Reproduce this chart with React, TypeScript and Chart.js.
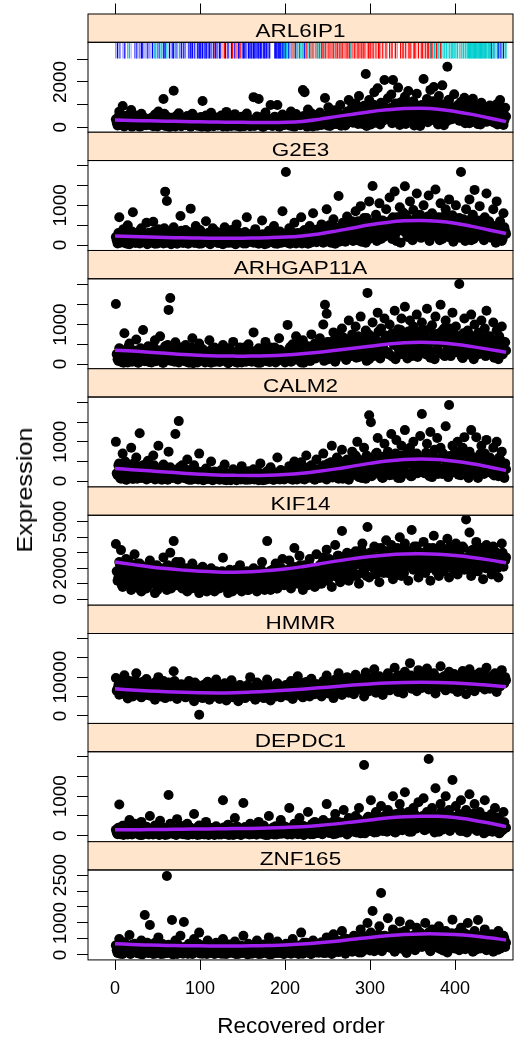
import React, { useEffect, useRef } from 'react';
import { Chart, registerables } from 'chart.js';

Chart.register(...registerables);

// ---------------- data ----------------
const GENES = ['ARL6IP1', 'G2E3', 'ARHGAP11A', 'CALM2', 'KIF14', 'HMMR', 'DEPDC1', 'ZNF165'];

// expression values at odd positions of the recovered order (1, 3, 5, ...)
const ARL6IP1 = [
  350, 80, 690, 180, 940, 40, 260, 520, 120, 760, 60, 300, 450, 200, 30, 600, 150, 380, 90, 250,
  170, 420, 50, 560, 280, 700, 100, 330, 1250, 60, 480, 200, 90, 400, 1610, 40, 300, 620, 120, 230,
  380, 90, 500, 250, 30, 600, 180, 340, 70, 200, 450, 1160, 140, 520, 20, 310, 640, 100, 270, 430,
  80, 300, 520, 40, 200, 680, 120, 400, 60, 250, 580, 150, 360, 30, 460, 220, 90, 610, 300, 50,
  330, 1330, 200, 480, 1250, 80, 340, 40, 650, 150, 260, 980, 60, 400, 180, 980, 30, 290, 560, 100,
  250, 480, 80, 700, 340, 30, 590, 180, 400, 120, 1645, 1550, 300, 780, 150, 620, 40, 360, 530, 220,
  650, 100, 430, 1290, 250, 880, 60, 520, 370, 750, 150, 630, 980, 280, 480, 80, 700, 1200, 400, 900,
  580, 1050, 240, 1380, 760, 150, 950, 2350, 480, 1200, 120, 880, 1550, 380, 1720, 660, 1080, 280, 2090, 820,
  1280, 480, 1450, 2090, 230, 880, 1750, 100, 1120, 390, 1350, 930, 1600, 300, 780, 1150, 520, 1480, 680, 60,
  980, 2130, 580, 1250, 870, 1650, 380, 1775, 1080, 240, 1380, 720, 1850, 90, 980, 2673, 1220, 340, 820, 1460,
  580, 880, 290, 1120, 680, 1300, 430, 970, 180, 780, 1260, 530, 920, 140, 680, 1080, 380, 820, 240, 580,
  960, 480, 780, 190, 1020, 330, 1200, 620, 100, 860,
];
const G2E3 = [
  200, 40, 700, 120, 350, 60, 250, 500, 20, 180, 826, 90, 300, 150, 40, 420, 220, 80, 560, 130,
  60, 280, 588, 30, 200, 400, 100, 250, 40, 1346, 1111, 180, 320, 70, 450, 150, 30, 260, 732, 90,
  220, 380, 50, 150, 917, 280, 60, 480, 120, 30, 340, 200, 80, 600, 150, 40, 260, 420, 100, 200,
  50, 300, 160, 20, 450, 120, 250, 60, 380, 180, 30, 520, 90, 220, 140, 40, 330, 700, 80, 200,
  260, 60, 400, 140, 30, 250, 620, 100, 180, 40, 360, 200, 80, 480, 150, 30, 300, 110, 850, 220,
  1843, 60, 420, 250, 120, 560, 40, 300, 180, 700, 90, 380, 220, 30, 480, 150, 800, 260, 70, 400,
  180, 520, 60, 350, 900, 120, 440, 250, 650, 30, 380, 1237, 160, 500, 280, 80, 720, 420, 200, 600,
  300, 850, 120, 520, 980, 250, 680, 60, 430, 1100, 350, 1490, 200, 760, 500, 1050, 150, 620, 380, 900,
  480, 1200, 250, 700, 1350, 100, 560, 950, 380, 820, 1480, 300, 650, 1100, 200, 880, 520, 1300, 400, 760,
  220, 1000, 620, 450, 1250, 180, 800, 560, 1400, 320, 700, 1050, 150, 600, 900, 420, 1150, 280, 750, 500,
  1000, 350, 680, 1843, 200, 550, 900, 430, 1150, 120, 760, 1390, 300, 620, 980, 450, 200, 700, 1300, 380,
  550, 180, 900, 420, 1100, 250, 600, 100, 800, 350,
];
const ARHGAP11A = [
  1520, 120, 400, 60, 250, 780, 180, 40, 520, 300, 90, 200, 620, 30, 350, 150, 860, 70, 280, 450,
  160, 40, 380, 600, 90, 250, 700, 120, 30, 450, 200, 1370, 1670, 80, 320, 550, 150, 40, 420, 260,
  90, 480, 200, 30, 350, 650, 120, 260, 40, 520, 180, 380, 70, 300, 160, 600, 30, 220, 420, 100,
  300, 50, 180, 480, 90, 250, 20, 380, 150, 560, 60, 280, 120, 420, 40, 200, 340, 80, 500, 150,
  60, 800, 250, 120, 400, 30, 300, 180, 560, 70, 220, 420, 100, 350, 40, 260, 650, 140, 300, 80,
  200, 990, 380, 60, 500, 250, 700, 120, 350, 40, 600, 280, 160, 450, 80, 750, 300, 520, 180, 400,
  650, 250, 1000, 1500, 1270, 120, 550, 380, 800, 60, 450, 700, 220, 900, 350, 150, 620, 1100, 400, 750,
  280, 950, 500, 180, 1200, 650, 400, 850, 1800, 120, 700, 1050, 350, 580, 1300, 250, 900, 460, 1150, 600,
  300, 1000, 720, 180, 1350, 500, 880, 260, 1150, 640, 1450, 380, 820, 1100, 200, 950, 560, 1250, 420, 700,
  1050, 280, 850, 1400, 520, 160, 980, 700, 1200, 380, 600, 1500, 250, 900, 1100, 450, 780, 200, 1300, 620,
  950, 400, 2025, 700, 150, 1150, 560, 850, 300, 1250, 640, 1000, 220, 780, 480, 1100, 350, 900, 1350, 500,
  700, 250, 1050, 450, 850, 120, 600, 950, 300, 550,
];
const CALM2 = [
  1000, 150, 450, 60, 700, 250, 30, 380, 120, 850, 50, 300, 600, 180, 1220, 80, 400, 220, 40, 520,
  300, 100, 650, 40, 250, 900, 150, 30, 420, 200, 60, 750, 350, 100, 280, 1200, 50, 1530, 180, 400,
  80, 300, 550, 30, 200, 120, 400, 60, 250, 700, 100, 30, 180, 320, 50, 150, 500, 20, 240, 90,
  150, 30, 280, 80, 420, 20, 180, 100, 50, 300, 140, 20, 220, 60, 380, 100, 30, 160, 250, 40,
  120, 300, 50, 200, 20, 450, 90, 160, 30, 250, 70, 350, 140, 30, 200, 600, 60, 280, 110, 40,
  220, 80, 380, 150, 30, 500, 200, 60, 300, 480, 120, 40, 650, 250, 90, 400, 160, 30, 550, 200,
  80, 350, 700, 150, 40, 450, 250, 900, 100, 320, 600, 60, 200, 800, 400, 130, 550, 30, 300, 750,
  200, 650, 1000, 100, 450, 300, 850, 60, 550, 1680, 1500, 400, 180, 700, 1100, 280, 600, 80, 950, 350,
  750, 150, 1200, 500, 300, 1045, 80, 650, 900, 400, 1300, 200, 550, 850, 120, 1000, 450, 700, 300, 1150,
  1710, 250, 600, 950, 400, 1250, 100, 750, 500, 1100, 300, 850, 180, 650, 1400, 450, 1940, 200, 900, 550,
  300, 1000, 700, 150, 850, 1120, 450, 250, 750, 1300, 350, 600, 1120, 80, 500, 900, 250, 700, 1050, 400,
  600, 200, 850, 350, 1000, 120, 550, 750, 250, 450,
];
const KIF14 = [
  3560, 1200, 2400, 3170, 800, 1800, 2600, 1100, 2000, 600, 1500, 2900, 900, 1700, 2300, 500, 1300, 2100, 700, 1600,
  2500, 1000, 1800, 400, 2200, 1400, 800, 1900, 2700, 1200, 600, 1600, 3000, 1000, 3750, 2000, 900, 1500, 2400, 700,
  1400, 2000, 500, 1700, 1100, 2300, 800, 1500, 1900, 400, 1200, 2100, 900, 1600, 700, 1300, 2000, 1000, 500, 1800,
  1200, 700, 1600, 2680, 900, 1400, 400, 1900, 1100, 600, 1700, 1300, 800, 2200, 500, 1500, 1000, 1800, 600, 1300,
  900, 2000, 1400, 500, 1700, 1100, 2400, 800, 1500, 3750, 1200, 600, 1900, 1000, 2300, 700, 1600, 1300, 2600, 900,
  1800, 1200, 2500, 700, 1600, 3300, 2000, 1000, 2800, 1400, 600, 2200, 1700, 900, 2600, 1300, 2000, 800, 2900, 1500,
  2200, 1000, 2700, 1700, 3200, 1300, 2400, 800, 2000, 3500, 1500, 2800, 1100, 4400, 2300, 1800, 3000, 1200, 2600, 2000,
  1500, 3100, 2400, 1000, 2800, 3600, 1800, 2500, 4660, 1400, 3000, 2200, 3400, 1600, 2700, 1100, 3300, 2000, 2600, 3800,
  1700, 2900, 3500, 1300, 2400, 3200, 2000, 4000, 1500, 2800, 3600, 2200, 1200, 3100, 4460, 1900, 2600, 3400, 1400, 3000,
  2300, 3700, 1700, 2800, 3300, 1200, 2500, 4100, 2000, 3000, 1500, 3500, 2700, 1800, 3200, 3900, 1400, 2600, 3100, 2100,
  3600, 1600, 2900, 2300, 3400, 1900, 5140, 2700, 4300, 1500, 3200, 2400, 3700, 1800, 2800, 3300, 1300, 2600, 3500, 2000,
  2900, 1600, 3400, 2300, 3000, 1400, 2700, 3600, 2100, 2500,
];
const HMMR = [
  9800, 7000, 5500, 8500, 6000, 10500, 7500, 4500, 9000, 6500, 5000, 8000, 11000, 6000, 7200, 4800, 8800, 5800, 9500, 6800,
  5200, 8200, 6500, 4200, 7800, 10000, 5600, 7000, 9000, 4600, 6200, 8600, 5000, 7400, 11500, 6000, 4400, 8000, 6800, 5400,
  7600, 4800, 6400, 9000, 5200, 7000, 3800, 8200, 5800, 300, 6600, 4600, 7800, 5400, 8800, 4200, 6200, 7200, 5000, 9400,
  6000, 4400, 7400, 5600, 8400, 4000, 6800, 5200, 9200, 4800, 7000, 6000, 3800, 8000, 5400, 6600, 4600, 7600, 5800, 10000,
  5000, 7200, 4200, 8600, 6200, 5400, 7800, 4600, 6800, 9400, 5600, 4000, 7400, 6400, 5000, 8400, 6000, 4800, 7000, 5800,
  8000, 5200, 6600, 9000, 4400, 7600, 6200, 10200, 5400, 7000, 4800, 8600, 6000, 7400, 5000, 9600, 6800, 5600, 8200, 6400,
  7200, 5000, 9000, 6600, 10400, 5800, 8000, 7000, 4600, 9400, 6400, 11000, 7800, 5400, 8800, 6800, 10000, 6000, 9200, 7400,
  5600, 10600, 8200, 6800, 9600, 7200, 5000, 11200, 8000, 6400, 9800, 7600, 12000, 6000, 8600, 10200, 7000, 5400, 9200, 8000,
  11000, 6600, 8800, 7400, 12400, 9600, 6200, 10400, 8200, 5800, 11400, 7800, 9400, 13600, 7000, 10000, 8600, 6400, 11800, 9000,
  7200, 10600, 8400, 12200, 6800, 9800, 7800, 11000, 5800, 9200, 8000, 12800, 7400, 10200, 6600, 9000, 11400, 8200, 7000, 10800,
  8600, 6200, 10000, 7600, 11600, 8200, 5600, 9400, 12000, 7000, 9000, 6400, 10600, 8000, 11200, 7400, 9800, 6800, 12400, 8400,
  7000, 10200, 8400, 11000, 6200, 9200, 7600, 11800, 8800, 10000,
];
const DEPDC1 = [
  150, 40, 790, 100, 250, 60, 180, 30, 400, 120, 50, 300, 80, 200, 20, 350, 100, 60, 230, 40,
  500, 90, 30, 260, 150, 40, 380, 70, 200, 20, 120, 1030, 300, 60, 180, 30, 420, 100, 250, 50,
  140, 30, 300, 80, 200, 40, 550, 110, 20, 260, 70, 160, 30, 350, 90, 200, 50, 130, 20, 240,
  70, 180, 30, 900, 120, 40, 280, 80, 200, 20, 450, 100, 60, 160, 30, 830, 220, 50, 130, 300,
  40, 200, 90, 30, 350, 150, 60, 260, 20, 120, 500, 80, 180, 30, 240, 100, 50, 400, 140, 60,
  220, 30, 700, 120, 60, 300, 180, 40, 450, 100, 250, 30, 160, 600, 80, 200, 40, 350, 120, 70,
  280, 50, 400, 150, 800, 90, 300, 200, 40, 550, 160, 350, 80, 250, 650, 120, 30, 450, 200, 300,
  100, 500, 250, 700, 60, 350, 1790, 200, 450, 150, 900, 300, 80, 600, 400, 200, 750, 120, 500, 280,
  650, 180, 400, 1000, 90, 550, 300, 800, 150, 450, 1100, 250, 600, 350, 100, 700, 500, 200, 850, 400,
  300, 950, 150, 600, 1940, 400, 700, 250, 1200, 500, 100, 800, 350, 550, 1000, 200, 650, 450, 1410, 300,
  750, 250, 550, 900, 120, 400, 650, 300, 1050, 200, 500, 800, 150, 350, 600, 250, 450, 900, 100, 400,
  300, 550, 150, 700, 250, 450, 80, 350, 600, 200,
];
const ZNF165 = [
  300, 60, 500, 150, 30, 400, 100, 250, 625, 50, 180, 350, 80, 220, 40, 450, 120, 1250, 300, 60,
  940, 200, 30, 380, 120, 550, 70, 250, 40, 180, 2470, 320, 90, 1094, 150, 450, 30, 260, 600, 100,
  1030, 200, 50, 350, 140, 30, 500, 220, 80, 700, 160, 40, 300, 100, 450, 60, 240, 130, 30, 380,
  90, 250, 40, 500, 160, 30, 320, 100, 200, 60, 420, 140, 30, 280, 80, 600, 180, 50, 350, 120,
  40, 260, 110, 450, 30, 200, 80, 330, 140, 50, 550, 200, 30, 300, 100, 420, 60, 240, 150, 30,
  350, 100, 250, 40, 500, 170, 60, 300, 120, 700, 40, 220, 380, 90, 160, 30, 450, 200, 80, 320,
  150, 400, 60, 280, 550, 120, 350, 30, 650, 200, 450, 90, 300, 750, 160, 40, 500, 250, 380, 100,
  600, 200, 450, 80, 800, 350, 150, 550, 1000, 260, 700, 1375, 120, 450, 300, 900, 1940, 200, 600, 380,
  1150, 250, 500, 800, 100, 650, 350, 1050, 200, 550, 750, 60, 450, 950, 300, 600, 150, 850, 400, 700,
  250, 550, 1000, 350, 700, 120, 800, 450, 250, 650, 900, 180, 500, 350, 750, 80, 600, 400, 1100, 300,
  500, 700, 150, 850, 400, 250, 650, 1000, 300, 550, 100, 750, 450, 1094, 200, 600, 350, 800, 150, 500,
  400, 650, 100, 550, 300, 750, 200, 450, 600, 250,
];

// expression values at even positions of the recovered order (2, 4, 6, ...)
const ARL6IP1_EVEN = [
  200, 450, 100, 320, 60, 500, 240, 150, 400, 30, 280, 520, 110, 350, 190, 70, 430, 260, 140, 380,
  90, 310, 210, 480, 40, 360, 170, 250, 600, 120, 330, 20, 420, 230, 80, 500, 150, 290, 50, 370,
  240, 130, 410, 60, 290, 180, 450, 100, 350, 220, 30, 380, 160, 270, 90, 420, 200, 50, 330, 150,
  260, 400, 110, 320, 180, 40, 370, 230, 140, 460, 70, 300, 200, 120, 390, 50, 270, 170, 350, 90,
  210, 60, 380, 250, 130, 440, 20, 300, 190, 100, 360, 230, 80, 470, 160, 280, 40, 340, 210, 120,
  400, 180, 300, 60, 450, 220, 130, 360, 90, 270, 500, 170, 30, 410, 240, 110, 330, 200, 70, 460,
  300, 520, 180, 390, 80, 610, 260, 450, 140, 340, 560, 220, 70, 480, 350, 160, 620, 290, 430, 200,
  380, 700, 150, 520, 900, 280, 640, 60, 460, 800, 320, 1000, 200, 560, 740, 120, 430, 950, 350, 620,
  500, 850, 180, 700, 1050, 360, 600, 250, 900, 480, 150, 760, 1100, 420, 650, 80, 980, 540, 300, 820,
  680, 400, 1000, 220, 760, 560, 1150, 300, 880, 120, 640, 1020, 450, 780, 260, 1180, 560, 900, 380, 700,
  450, 1000, 300, 680, 860, 180, 560, 760, 400, 1100, 250, 650, 480, 870, 120, 720, 550, 300, 900, 420,
  650, 250, 520, 820, 120, 700, 400, 560, 300, 480,
];
const G2E3_EVEN = [
  120, 300, 60, 210, 400, 150, 30, 260, 90, 340, 180, 50, 280, 120, 380, 70, 230, 160, 20, 310,
  170, 90, 350, 240, 40, 190, 300, 110, 420, 60, 230, 140, 20, 330, 200, 80, 270, 130, 360, 50,
  150, 250, 30, 320, 100, 200, 60, 280, 170, 380, 40, 130, 240, 90, 310, 20, 190, 120, 350, 70,
  240, 110, 30, 290, 160, 60, 340, 200, 100, 260, 20, 180, 310, 80, 140, 230, 40, 280, 120, 190,
  90, 330, 160, 50, 220, 120, 270, 20, 180, 300, 80, 150, 250, 40, 200, 110, 340, 60, 170, 280,
  140, 240, 30, 330, 120, 200, 70, 280, 160, 40, 350, 110, 230, 180, 60, 300, 140, 380, 90, 220,
  300, 90, 420, 180, 260, 500, 60, 350, 150, 440, 230, 80, 380, 560, 120, 300, 470, 200, 340, 100,
  420, 180, 600, 300, 80, 500, 250, 680, 140, 380, 560, 220, 450, 100, 640, 320, 480, 200, 580, 280,
  350, 620, 150, 480, 280, 700, 420, 60, 560, 340, 760, 200, 480, 600, 120, 400, 680, 260, 540, 180,
  600, 300, 480, 720, 100, 380, 560, 240, 660, 400, 120, 520, 300, 740, 450, 200, 620, 350, 80, 480,
  300, 560, 180, 440, 650, 100, 380, 520, 260, 700, 150, 460, 320, 580, 220, 400, 120, 520, 280, 600,
  200, 420, 320, 60, 500, 250, 380, 150, 450, 280,
];
const ARHGAP11A_EVEN = [
  250, 80, 380, 160, 30, 300, 120, 450, 200, 60, 340, 140, 240, 40, 400, 180, 100, 320, 220, 50,
  300, 130, 420, 70, 250, 180, 350, 30, 280, 140, 480, 90, 200, 330, 60, 260, 150, 390, 110, 210,
  330, 60, 240, 150, 420, 20, 300, 190, 90, 360, 130, 250, 40, 310, 180, 100, 380, 230, 60, 290,
  170, 350, 80, 260, 130, 400, 40, 220, 310, 100, 180, 30, 340, 250, 120, 420, 60, 280, 160, 230,
  320, 100, 210, 30, 380, 160, 270, 80, 340, 190, 50, 300, 130, 420, 220, 90, 360, 170, 250, 40,
  270, 150, 430, 70, 330, 220, 500, 100, 390, 260, 30, 450, 170, 310, 80, 400, 230, 140, 520, 300,
  200, 450, 80, 360, 560, 180, 420, 280, 620, 120, 380, 500, 240, 680, 320, 100, 460, 560, 200, 400,
  520, 160, 700, 380, 250, 600, 440, 80, 760, 300, 540, 200, 650, 420, 820, 140, 560, 380, 720, 260,
  620, 220, 780, 480, 120, 680, 360, 860, 250, 540, 720, 140, 600, 440, 800, 300, 660, 180, 500, 840,
  400, 700, 240, 560, 880, 320, 640, 120, 760, 480, 300, 820, 560, 200, 680, 400, 900, 260, 580, 740,
  300, 660, 480, 180, 780, 380, 600, 240, 720, 440, 120, 580, 360, 800, 260, 640, 480, 200, 700, 420,
  380, 600, 160, 520, 300, 700, 440, 240, 560, 340,
];
const CALM2_EVEN = [
  200, 400, 80, 300, 150, 500, 40, 260, 350, 120, 450, 200, 60, 380, 240, 100, 320, 180, 480, 70,
  230, 150, 400, 60, 310, 190, 90, 360, 140, 250, 30, 330, 200, 80, 280, 160, 40, 350, 120, 220,
  180, 60, 260, 120, 30, 200, 90, 160, 40, 230, 110, 20, 170, 70, 250, 130, 30, 190, 80, 140,
  60, 170, 110, 30, 210, 80, 140, 20, 190, 100, 60, 230, 130, 40, 160, 90, 200, 30, 120, 70,
  180, 40, 130, 240, 70, 160, 20, 200, 100, 50, 170, 120, 30, 220, 80, 150, 40, 190, 110, 60,
  140, 260, 60, 180, 100, 320, 40, 220, 130, 60, 280, 170, 80, 350, 120, 230, 50, 300, 150, 90,
  250, 120, 400, 60, 300, 180, 480, 90, 350, 220, 130, 520, 280, 60, 420, 200, 340, 100, 480, 250,
  400, 150, 560, 300, 80, 480, 250, 650, 180, 400, 120, 580, 320, 720, 200, 460, 90, 620, 350, 260,
  300, 560, 160, 420, 700, 240, 500, 80, 640, 360, 200, 780, 440, 120, 580, 300, 680, 200, 500, 380,
  560, 200, 720, 400, 120, 620, 300, 800, 460, 180, 560, 320, 700, 240, 500, 100, 640, 380, 280, 760,
  420, 160, 600, 340, 720, 220, 500, 80, 660, 380, 240, 560, 140, 460, 700, 300, 180, 520, 380, 240,
  320, 500, 140, 420, 260, 600, 180, 380, 80, 300,
];
const KIF14_EVEN = [
  1800, 1400, 2200, 900, 1600, 2000, 1200, 2500, 1500, 1000, 1900, 1300, 2300, 700, 1700, 1100, 2100, 1400, 800, 1900,
  1300, 2100, 1000, 1700, 600, 1500, 2000, 1200, 1800, 900, 2200, 1400, 700, 1600, 1100, 2400, 1300, 1800, 1000, 1500,
  1700, 900, 1300, 2000, 700, 1500, 1100, 1800, 600, 1400, 1000, 1700, 1200, 500, 1500, 1900, 800, 1300, 1600, 1000,
  1500, 900, 1800, 1100, 1400, 700, 1600, 1200, 500, 1300, 1900, 1000, 1500, 800, 1700, 1100, 1400, 600, 1600, 1200,
  1400, 800, 1700, 1200, 1000, 1900, 1300, 600, 1500, 1100, 1800, 900, 1400, 1200, 700, 1600, 1000, 2000, 1300, 1500,
  1200, 1900, 1500, 900, 2100, 1300, 1700, 1100, 2200, 1500, 1000, 1800, 1300, 2300, 1600, 1100, 2000, 1400, 1700, 1000,
  1800, 2400, 1400, 2000, 1200, 2600, 1700, 2200, 1500, 1900, 2800, 1300, 2300, 1800, 2600, 1500, 2100, 2900, 1700, 2400,
  2200, 2800, 1600, 2500, 3200, 2000, 2700, 1500, 2300, 3000, 2100, 2600, 1800, 3300, 2400, 2000, 2800, 1700, 3100, 2300,
  2500, 2000, 3000, 2700, 1800, 3300, 2400, 2100, 2900, 1700, 3200, 2600, 2300, 2800, 2000, 3400, 2500, 1900, 2900, 2400,
  2700, 2100, 3100, 2500, 2000, 2900, 3300, 2300, 1800, 2700, 3200, 2400, 2000, 3000, 2600, 2200, 3400, 2500, 1900, 2800,
  2500, 3000, 2100, 2700, 3300, 2200, 2600, 1900, 3100, 2400, 2800, 2100, 3000, 2500, 2200, 2900, 2600, 2000, 3200, 2300,
  2600, 2200, 2900, 2400, 2000, 2800, 2300, 3000, 2500, 2700,
];
const HMMR_EVEN = [
  6500, 8000, 7200, 5800, 9000, 6800, 7600, 5200, 8400, 6200, 7000, 9200, 5600, 7800, 6400, 8600, 6000, 7400, 5400, 8200,
  6800, 7600, 5800, 8800, 6200, 7200, 5000, 8000, 6600, 7400, 5600, 8400, 6000, 7000, 9000, 5400, 7800, 6400, 8200, 6000,
  7000, 5600, 8000, 6200, 7400, 5200, 8600, 6600, 7200, 5000, 7800, 6000, 8200, 5800, 7000, 6400, 5400, 8000, 6800, 6000,
  5800, 7600, 6400, 5000, 7200, 6000, 8200, 5600, 6800, 7400, 5200, 6600, 7800, 6000, 5400, 7000, 6400, 8000, 5800, 6800,
  6600, 5400, 7400, 6000, 8000, 5800, 6800, 7200, 5200, 6400, 7800, 6000, 7000, 5600, 8200, 6600, 5800, 7400, 6200, 7000,
  6200, 7400, 5600, 8000, 6800, 7000, 5800, 8400, 6400, 7600, 6000, 7200, 8800, 6600, 7800, 5800, 7400, 8200, 6400, 7000,
  8000, 6800, 7600, 9200, 6400, 8400, 7200, 8800, 6600, 8000, 7400, 9000, 6800, 8200, 7600, 9400, 7000, 8600, 7800, 8200,
  8400, 7600, 9200, 7000, 8800, 8000, 9600, 7400, 8600, 9000, 7200, 9800, 8200, 7800, 9400, 8600, 7600, 9200, 8400, 10000,
  8800, 9600, 7800, 9200, 8400, 10200, 8000, 9000, 7600, 9800, 8600, 9400, 8000, 10400, 8800, 9200, 7800, 9600, 8400, 10000,
  9000, 8200, 9800, 8600, 10200, 7800, 9400, 8800, 10000, 8400, 9200, 7600, 9600, 8800, 10400, 8200, 9000, 9800, 8600, 9400,
  8400, 9800, 8800, 7800, 9600, 8600, 10200, 8000, 9200, 8800, 10000, 7600, 9400, 8400, 9800, 8800, 7800, 10200, 9000, 8600,
  9200, 8000, 9600, 8600, 10400, 8200, 9000, 9800, 8400, 9200,
];
const DEPDC1_EVEN = [
  80, 200, 40, 150, 20, 260, 100, 60, 180, 30, 120, 240, 50, 160, 90, 20, 210, 70, 140, 30,
  110, 40, 190, 80, 240, 20, 130, 60, 170, 90, 30, 220, 110, 50, 150, 20, 180, 70, 120, 40,
  160, 70, 20, 200, 100, 40, 140, 60, 230, 30, 110, 180, 50, 90, 20, 150, 70, 200, 40, 120,
  30, 140, 90, 210, 50, 110, 20, 170, 70, 130, 40, 230, 80, 20, 150, 60, 190, 100, 30, 120,
  90, 160, 30, 120, 60, 220, 40, 100, 170, 20, 140, 60, 210, 90, 30, 180, 110, 50, 250, 80,
  130, 60, 200, 30, 150, 90, 260, 50, 180, 110, 20, 230, 80, 140, 40, 300, 120, 60, 210, 100,
  160, 40, 240, 110, 320, 70, 200, 130, 380, 50, 260, 170, 90, 330, 140, 220, 60, 400, 180, 120,
  300, 80, 420, 200, 150, 360, 60, 280, 480, 120, 340, 200, 520, 90, 400, 260, 160, 460, 240, 100,
  380, 160, 540, 280, 80, 460, 220, 600, 140, 380, 260, 500, 100, 420, 320, 560, 180, 300, 460, 220,
  500, 140, 400, 280, 600, 180, 460, 80, 520, 340, 220, 620, 160, 440, 300, 540, 120, 380, 260, 480,
  200, 420, 120, 360, 520, 240, 80, 460, 300, 180, 560, 260, 120, 400, 220, 340, 60, 480, 280, 160,
  240, 100, 380, 180, 460, 60, 280, 140, 340, 200,
];
const ZNF165_EVEN = [
  150, 280, 40, 200, 350, 90, 260, 170, 30, 320, 120, 220, 60, 300, 180, 20, 250, 110, 380, 70,
  200, 130, 300, 50, 240, 170, 30, 340, 100, 210, 60, 280, 150, 20, 260, 120, 330, 80, 190, 40,
  250, 110, 40, 300, 180, 70, 230, 130, 350, 50, 200, 100, 280, 30, 160, 240, 90, 320, 140, 60,
  190, 120, 280, 40, 220, 150, 330, 70, 180, 260, 30, 200, 110, 300, 60, 240, 140, 20, 210, 90,
  160, 300, 70, 220, 130, 40, 270, 180, 90, 330, 20, 200, 120, 260, 60, 180, 310, 100, 40, 230,
  140, 260, 60, 200, 320, 100, 230, 30, 280, 160, 380, 80, 250, 140, 40, 300, 190, 110, 350, 70,
  240, 130, 360, 60, 280, 420, 180, 300, 90, 460, 220, 130, 380, 260, 520, 100, 320, 200, 440, 150,
  300, 520, 180, 420, 80, 600, 340, 220, 480, 140, 560, 300, 420, 200, 640, 360, 120, 500, 280, 580,
  400, 220, 600, 340, 160, 520, 440, 700, 260, 480, 120, 620, 380, 200, 560, 300, 660, 240, 460, 340,
  560, 280, 460, 640, 180, 400, 560, 300, 720, 220, 480, 380, 140, 600, 320, 500, 260, 680, 420, 200,
  380, 560, 260, 460, 700, 180, 520, 340, 620, 240, 440, 160, 580, 380, 260, 500, 640, 320, 180, 440,
  300, 520, 220, 400, 160, 480, 340, 260, 520, 380,
];

// loess-like smoother read at these orders
const SMOOTH_X = [0, 20, 40, 60, 80, 100, 120, 140, 160, 180, 200, 220, 240, 260, 280, 300, 320, 340, 360, 380, 400, 420, 440, 460];
const ARL6IP1_SMOOTH = [320, 300, 285, 270, 255, 240, 230, 222, 215, 212, 220, 260, 350, 470, 580, 690, 770, 825, 838, 800, 700, 570, 410, 250];
const G2E3_SMOOTH = [230, 215, 200, 190, 180, 175, 170, 170, 175, 185, 200, 230, 280, 350, 430, 510, 570, 610, 620, 600, 550, 470, 380, 290];
const ARHGAP11A_SMOOTH = [350, 330, 300, 270, 240, 220, 205, 200, 200, 210, 230, 260, 300, 350, 400, 450, 500, 540, 550, 540, 500, 440, 370, 300];
const CALM2_SMOOTH = [320, 290, 260, 230, 200, 175, 155, 145, 140, 145, 165, 200, 250, 310, 380, 450, 510, 550, 565, 550, 505, 440, 360, 270];
const KIF14_SMOOTH = [2400, 2250, 2100, 1980, 1880, 1800, 1760, 1750, 1780, 1850, 1950, 2100, 2280, 2460, 2620, 2760, 2860, 2920, 2930, 2900, 2820, 2700, 2540, 2350];
const HMMR_SMOOTH = [7000, 6700, 6450, 6250, 6100, 6000, 5950, 6000, 6150, 6350, 6600, 6900, 7250, 7600, 7950, 8250, 8500, 8650, 8700, 8650, 8500, 8250, 7900, 7500];
const DEPDC1_SMOOTH = [150, 150, 155, 160, 165, 170, 175, 180, 185, 195, 210, 230, 260, 300, 350, 400, 450, 480, 495, 490, 460, 400, 320, 230];
const ZNF165_SMOOTH = [350, 330, 310, 300, 290, 285, 280, 280, 285, 295, 310, 340, 380, 430, 490, 550, 600, 640, 660, 660, 640, 600, 540, 470];

// y axis ticks, and which of them carry a label
const Y_TICKS = [
  [0, 1000, 2000, 3000],
  [0, 500, 1000, 1500, 2000],
  [0, 500, 1000, 1500, 2000],
  [0, 500, 1000, 1500, 2000],
  [0, 1000, 2000, 3000, 4000, 5000],
  [0, 5000, 10000, 15000, 20000],
  [0, 500, 1000, 1500, 2000],
  [0, 500, 1000, 1500, 2000, 2500],
];
const Y_LABELED = [
  [0, 2000],
  [0, 1000],
  [0, 1000],
  [0, 1000],
  [0, 2000, 5000],
  [0, 10000],
  [0, 1000],
  [0, 1000, 2500],
];
const X_TICKS = [0, 100, 200, 300, 400];

// cell-type colour code along the recovered order (one char per order, '.' = none)
const RUG_CODES =
  'b.B.bb..l.Bb..C.b.l.' + '..b.Bb.lb.BB.b.l.Bb.' + 'bl.B.bCC.b.BCcC.BbB.' + 'Cc.B.b.BB.C.Bc.b.B.b' +
  'B.b..lB.BbB.bBl.BbBB' + 'BbB.BbBB.bB.Bb.BrB.B' + 'b.BBl.r.RB.rB.p.BR.r' + 'B.r.BB.R.bBB.Bb.BBbB' +
  'BbBBbB.BBbBB.bBBbB.B' + 'bB.....BBBbBBBBbBCBC' + 'BCcBC.bCrCcRBcC.RCcr' + 'CrBcRrC.RrCcRr.CcRpC' +
  'RcRrRCrR.cRpRrCrRrcR' + 'rRpRcRrR.rpRrRrRCr.R' + 'pRr.RrR.rRpR.Rr.pRRr' + 'R.rRp.Rr.RRr.pR..rRr' +
  '..R.rR..pR.r...R.rR.' + 'pR..rR.R..rRR.p.R..r' + 'RR..R.rRRcCR.RcC.RRc' + 'CcRC.CcCpCc.CCcrCcC.' +
  'CcC.cCpCcC.CCcCCCCCC' + 'CCCCCCCCCCCCCCCCCcCC' + 'CCBcCbC.cCBC.BCcB.CC';
const RUG_LEVEL = 3388;

// ---------------- styles / layout ----------------
const RUG_PALETTE: Record<string, string> = {
  B: '#0000FF', b: '#7878FF', l: '#B4B4FF',
  C: '#00CDCD', c: '#80E4E4',
  R: '#FF0000', r: '#FF7878', p: '#FFB4B4',
};
const FONT = "'Liberation Sans', Arial, Helvetica, sans-serif";
const PURPLE = '#A020F0';
const STRIP_BG = '#FFE5CC';
const W = 524;
const H = 1041;
const PLOT_LEFT = 88;
const PLOT_RIGHT = 513;
const FIRST_STRIP_TOP = 14;
const BLOCK = 118.24;
const STRIP_H = 28.3;
const PLOT_H = 89.94;
const X_MIN = -31.8;
const X_MAX = 468.2;
const Y_RANGES = [
  [-218, 3749], [-138, 2130], [-119, 2157], [-152, 2145],
  [-380, 5415], [-1915, 21230], [-151, 2126], [-154, 2657],
];
const Y_TICK_FONT = 19;
const X_TICK_FONT = 18;
const STRIP_FONT = 18;
const STRIP_STRETCH = 1.25;
const Y_LABEL_CENTER = 61;
const Y_TICK_LEN = 11;

const ODD_VALUES = [ARL6IP1, G2E3, ARHGAP11A, CALM2, KIF14, HMMR, DEPDC1, ZNF165];
const EVEN_VALUES = [ARL6IP1_EVEN, G2E3_EVEN, ARHGAP11A_EVEN, CALM2_EVEN, KIF14_EVEN, HMMR_EVEN, DEPDC1_EVEN, ZNF165_EVEN];
const SMOOTHS = [ARL6IP1_SMOOTH, G2E3_SMOOTH, ARHGAP11A_SMOOTH, CALM2_SMOOTH, KIF14_SMOOTH, HMMR_SMOOTH, DEPDC1_SMOOTH, ZNF165_SMOOTH];

function textWidth(text: string, size: number) {
  const c = document.createElement('canvas').getContext('2d')!;
  c.font = `${size}px ${FONT}`;
  return c.measureText(text).width;
}

const framePlugin = {
  id: 'panelFrame',
  afterDraw(chart: any, _args: any, opts: any) {
    const { ctx, chartArea: a } = chart;
    const w = a.right - a.left;
    const st = a.top - STRIP_H;
    ctx.save();
    ctx.fillStyle = STRIP_BG;
    ctx.fillRect(a.left, st, w, STRIP_H);
    ctx.strokeStyle = '#000';
    ctx.lineWidth = 1;
    ctx.strokeRect(a.left, st, w, STRIP_H);
    ctx.strokeRect(a.left, a.top, w, a.bottom - a.top);
    ctx.fillStyle = '#000';
    ctx.font = `${STRIP_FONT}px ${FONT}`;
    ctx.textAlign = 'center';
    ctx.textBaseline = 'alphabetic';
    ctx.translate(a.left + w / 2, st + 23.3);
    ctx.scale(STRIP_STRETCH, 1);
    ctx.fillText(opts.label, 0, 0);
    ctx.restore();
  },
};

function makeChart(canvas: HTMLCanvasElement, i: number) {
  const isFirst = i === 0;
  const isLast = i === GENES.length - 1;
  const showX = isFirst || isLast;
  const plotTop = FIRST_STRIP_TOP + i * BLOCK + STRIP_H;
  const plotBottom = plotTop + PLOT_H;
  const labeled = Y_LABELED[i];
  const widest = Math.max(...labeled.map((v) => textWidth(String(v), Y_TICK_FONT)));
  const yPad = PLOT_LEFT - Y_TICK_LEN - Y_LABEL_CENTER - widest / 2;

  const cells = [
    ...ODD_VALUES[i].map((y, k) => ({ x: 2 * k + 1, y })),
    ...EVEN_VALUES[i].map((y, k) => ({ x: 2 * k + 2, y })),
  ];

  const datasets: any[] = [
    {
      data: SMOOTH_X.map((x, j) => ({ x, y: SMOOTHS[i][j] })),
      showLine: true,
      borderColor: PURPLE,
      borderWidth: 3.5,
      pointRadius: 0,
      tension: 0.4,
      clip: 0,
    },
    {
      data: cells,
      showLine: false,
      pointRadius: 5,
      pointBackgroundColor: '#000',
      pointBorderWidth: 0,
      clip: 0,
    },
  ];
  if (isFirst) {
    const pts: { x: number; y: number }[] = [];
    const cols: string[] = [];
    for (let k = 0; k < RUG_CODES.length; k++) {
      const ch = RUG_CODES[k];
      if (RUG_PALETTE[ch]) {
        pts.push({ x: k + 1, y: RUG_LEVEL });
        cols.push(RUG_PALETTE[ch]);
      }
    }
    datasets.push({
      data: pts,
      showLine: false,
      pointStyle: 'line',
      pointRotation: 90,
      pointRadius: 8,
      pointBorderColor: cols,
      pointBorderWidth: 1.2,
      clip: 0,
    });
  }

  return new Chart(canvas, {
    type: 'scatter',
    data: { datasets },
    plugins: [framePlugin],
    options: {
      animation: false,
      responsive: false,
      events: [],
      layout: {
        padding: {
          top: isFirst ? 0 : plotTop,
          bottom: isLast ? 0 : H - plotBottom,
          left: 0,
          right: W - PLOT_RIGHT,
        },
      },
      plugins: {
        legend: { display: false },
        tooltip: { enabled: false },
        panelFrame: { label: GENES[i] },
      } as any,
      scales: {
        x: {
          type: 'linear',
          min: X_MIN,
          max: X_MAX,
          position: isFirst ? 'top' : 'bottom',
          display: showX,
          afterBuildTicks: (s: any) => { s.ticks = X_TICKS.map((v) => ({ value: v })); },
          afterFit: (s: any) => {
            if (isFirst) s.height = plotTop;
            else if (isLast) s.height = H - plotBottom;
            else s.height = 0;
          },
          grid: { drawOnChartArea: false, drawTicks: true, tickLength: isFirst ? plotTop - 3.5 : 10, color: '#000', lineWidth: 1 },
          border: { display: false },
          ticks: {
            display: isLast,
            autoSkip: false,
            maxRotation: 0,
            padding: 8,
            color: '#000',
            font: { family: FONT, size: X_TICK_FONT },
          },
        },
        y: {
          type: 'linear',
          min: Y_RANGES[i][0],
          max: Y_RANGES[i][1],
          position: 'left',
          afterBuildTicks: (s: any) => { s.ticks = Y_TICKS[i].map((v) => ({ value: v })); },
          afterFit: (s: any) => { s.width = PLOT_LEFT; },
          grid: { drawOnChartArea: false, drawTicks: true, tickLength: Y_TICK_LEN, color: '#000', lineWidth: 1 },
          border: { display: false },
          ticks: {
            autoSkip: false,
            minRotation: 90,
            maxRotation: 90,
            crossAlign: 'center',
            padding: yPad,
            color: '#000',
            font: { family: FONT, size: Y_TICK_FONT },
            callback: (v: any) => (labeled.includes(Number(v)) ? String(v) : ''),
          },
        },
      },
    } as any,
  });
}

export default function App() {
  const refs = useRef<(HTMLCanvasElement | null)[]>([]);
  useEffect(() => {
    document.body.style.margin = '0';
    const charts = GENES.map((_, i) => makeChart(refs.current[i]!, i));
    return () => charts.forEach((c) => c.destroy());
  }, []);
  return (
    <div style={{ position: 'absolute', left: 0, top: 0, width: W, height: H, background: '#fff', overflow: 'hidden', fontFamily: FONT, color: '#000' }}>
      {GENES.map((g, i) => (
        <canvas
          key={g}
          ref={(el) => { refs.current[i] = el; }}
          width={W}
          height={H}
          style={{ position: 'absolute', left: 0, top: 0, width: W, height: H }}
        />
      ))}
      <div style={{ position: 'absolute', left: 25, top: 490, transform: 'translate(-50%, -50%) rotate(-90deg) scaleX(1.15)', fontSize: 22, whiteSpace: 'nowrap', lineHeight: 1 }}>
        Expression
      </div>
      <div style={{ position: 'absolute', left: 301, top: 1026, transform: 'translate(-50%, -50%)', fontSize: 22.5, whiteSpace: 'nowrap', lineHeight: 1 }}>
        Recovered order
      </div>
    </div>
  );
}
